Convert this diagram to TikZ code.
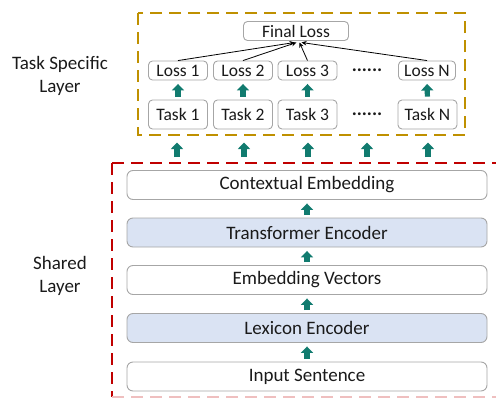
\documentclass[tikz,border=0pt]{standalone}
\usepackage{fontspec}
\setmainfont{Carlito}
\usetikzlibrary{arrows.meta,calc}
\definecolor{teal1}{HTML}{117B6F}
\definecolor{bluefill}{HTML}{DAE3F3}
\definecolor{bordergray}{HTML}{A6A6A6}
\definecolor{darkred}{HTML}{C00000}
\definecolor{gold}{HTML}{BF9000}
\definecolor{txt}{HTML}{1A1A1A}
\tikzset{
  smallbox/.style={draw=bordergray, line width=0.9pt, rounded corners=4pt, fill=white,
    minimum width=59pt, minimum height=29pt, inner sep=0pt, font=\fontsize{17.5}{20}\selectfont, text=txt},
  lossbox/.style={smallbox, minimum height=19pt},
  widebox/.style={draw=bordergray, line width=0.9pt, rounded corners=6pt, fill=white,
    minimum width=360pt, minimum height=29pt, inner sep=0pt, font=\fontsize{19}{22}\selectfont, text=txt},
  encbox/.style={widebox, fill=bluefill},
  blk/.style={draw=teal1, line width=5.2pt, -{Triangle[width=12pt,length=6.5pt]}},
  thin/.style={draw=black, line width=0.8pt, -{Stealth[length=5pt,width=4.5pt]}},
  lbl/.style={align=center, font=\fontsize{19}{23}\selectfont, text=txt},
  dots/.style={font=\fontsize{19}{20}\selectfont\bfseries, text=txt},
}
\begin{document}
\begin{tikzpicture}[x=1pt,y=-1pt]
\useasboundingbox (0,0) rectangle (496,397);
\clip (0,0) rectangle (496,397);
% frames
\draw[gold, line width=2pt, dash pattern=on 12pt off 7pt] (138,13) rectangle (465,135);
\draw[darkred, line width=2pt, dash pattern=on 12pt off 7pt] (112,163) -- (500,163);
\draw[darkred, line width=2pt, dash pattern=on 12pt off 7pt] (112,163) -- (112,397);
\draw[darkred!25, line width=2pt, dash pattern=on 12pt off 7pt] (112,397) -- (500,397);
% labels
\node[lbl] (tsl) at (60,76) {Task Specific\\Layer};
\node[lbl] (shl) at (60,276) {Shared\\Layer};
% task layer
\node[smallbox, minimum width=105pt, minimum height=19pt] (fl) at (296,31) {Final Loss};
\node[lossbox] (l1) at (178,70.5) {Loss 1};
\node[lossbox] (l2) at (243,70.5) {Loss 2};
\node[lossbox] (l3) at (307.5,70.5) {Loss 3};
\node[lossbox, minimum width=57pt] (ln) at (427,70.5) {Loss N};
\node[dots] (d1) at (367,70) {......};
\node[smallbox] (t1) at (178,114.5) {Task 1};
\node[smallbox] (t2) at (243,114.5) {Task 2};
\node[smallbox] (t3) at (307.5,114.5) {Task 3};
\node[smallbox] (tn) at (427.5,114.5) {Task N};
\node[dots] (d2) at (367,114) {......};
% arrows to final loss
\coordinate (f1) at (294.5,42.5);
\coordinate (f2) at (296.5,42.5);
\coordinate (f3) at (299.5,42.5);
\coordinate (f4) at (301.5,42.5);
\draw[thin] (l1.north) -- (f1);
\draw[thin] (l2.north) -- (f2);
\draw[thin] (l3.north) -- (f3);
\draw[thin] (ln.north) -- (f4);
% task -> loss
\foreach \a/\b in {t1/l1,t2/l2,t3/l3,tn/ln}{
  \draw[blk, shorten <=3pt, shorten >=3.5pt] (\a.north) -- (\b.south);
}
% shared layer
\node[widebox] (ce) at (307,185) {Contextual Embedding};
\node[encbox] (te) at (307,232.5) {Transformer Encoder};
\node[widebox] (ev) at (307,280) {Embedding Vectors};
\node[encbox] (le) at (307,328) {Lexicon Encoder};
\node[widebox] (is) at (307,376.5) {Input Sentence};
\foreach \a/\b in {is/le,le/ev,ev/te,te/ce}{
  \draw[blk, shorten <=3pt, shorten >=3.5pt] (\a.north) -- (\b.south);
}
% shared -> tasks
\foreach \x [count=\i] in {177,244,308,367,428}{
  \coordinate (ua\i) at (\x,157);
  \coordinate (ub\i) at (\x,142.5);
  \draw[blk] (ua\i) -- (ub\i);
}
\end{tikzpicture}
\end{document}
